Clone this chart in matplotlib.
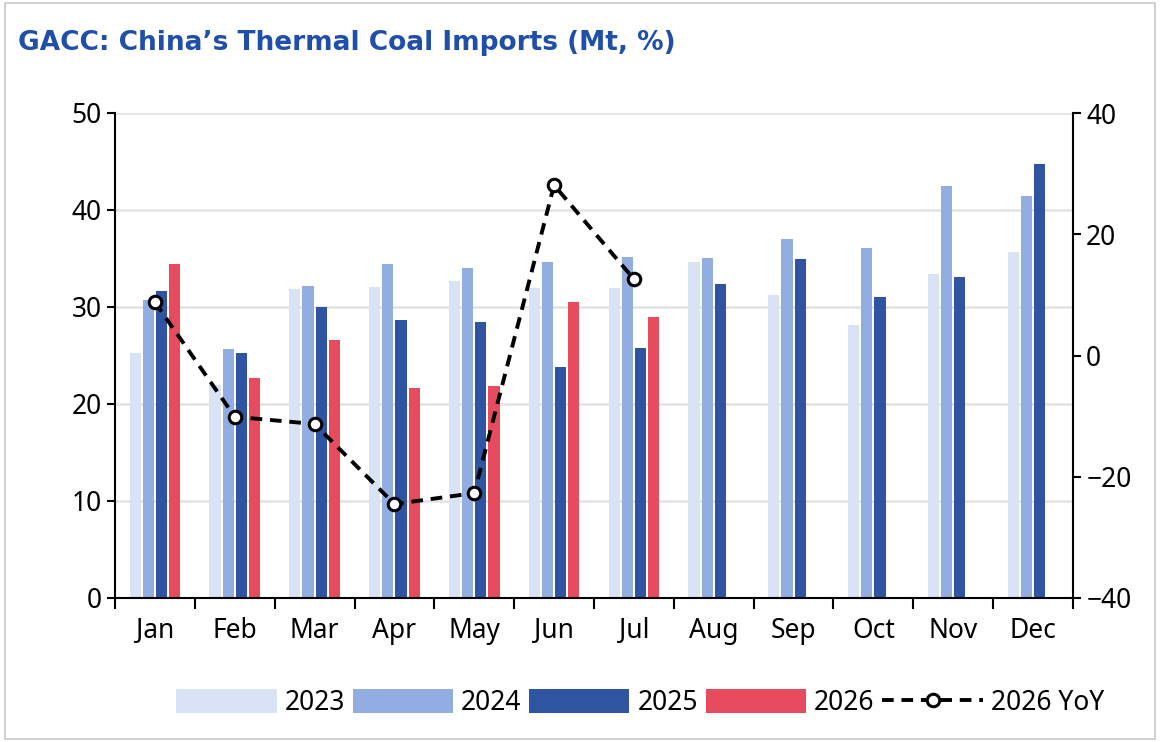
import numpy as np
import matplotlib.pyplot as plt
from matplotlib.patches import Rectangle

months = ["Jan", "Feb", "Mar", "Apr", "May", "Jun", "Jul", "Aug", "Sep", "Oct", "Nov", "Dec"]
y2023 = [25.3, 22.0, 31.9, 32.1, 32.7, 32.0, 32.0, 34.6, 31.2, 28.1, 33.4, 35.7]
y2024 = [30.7, 25.7, 32.2, 34.4, 34.0, 34.6, 35.2, 35.0, 37.0, 36.1, 42.5, 41.4]
y2025 = [31.7, 25.3, 30.0, 28.7, 28.5, 23.8, 25.8, 32.4, 34.9, 31.0, 33.1, 44.7]
y2026 = [34.4, 22.7, 26.6, 21.6, 21.9, 30.5, 29.0]
yoy2026 = [8.8, -10.1, -11.3, -24.5, -22.7, 28.1, 12.6]

plt.rcParams['font.family'] = ['Noto Sans', 'DejaVu Sans']

fig = plt.figure(figsize=(11.6, 7.42), dpi=100)
fig.patches.append(Rectangle((0.004, 0.004), 0.992, 0.992, transform=fig.transFigure,
                             fill=False, edgecolor="#c8c8c8", linewidth=1.2))
ax = fig.add_axes([115/1160, 1 - 598/742, (1073-115)/1160, (598-113)/742])

x = np.arange(12)
w = 0.14
step = 0.165
cols = ["#dae3f5", "#92ade2", "#2f55a2", "#e64c5e"]
series = [("2023", y2023), ("2024", y2024), ("2025", y2025), ("2026", y2026)]
handles = []
for i, (name, vals) in enumerate(series):
    xi = np.arange(len(vals)) + (i - 1.5) * step
    handles.append(ax.bar(xi, vals, w, color=cols[i], label=name, zorder=2))

ax.set_xlim(-0.5, 11.5)
ax.set_ylim(0, 50)
ax.set_yticks(range(0, 51, 10))
ax.grid(axis="y", color="#e3e3e3", linewidth=1.8, zorder=0)
ax.set_xticks(np.arange(-0.5, 12, 1))
ax.set_xticklabels([])
ax.set_xticks(x, minor=True)
ax.set_xticklabels(months, minor=True)
ax.tick_params(axis="x", which="minor", length=0, labelsize=19, pad=14)
ax.tick_params(axis="x", which="major", length=8, width=1.5, direction="out")
ax.tick_params(axis="y", labelsize=19, length=6, width=1.5)
for s in ["top", "right"]:
    ax.spines[s].set_visible(False)
for s in ["left", "bottom"]:
    ax.spines[s].set_linewidth(1.5)

ax2 = ax.twinx()
ax2.set_ylim(-40, 40)
ax2.set_yticks(range(-40, 41, 20))
ax2.tick_params(axis="y", labelsize=19, length=6, width=1.5)
for s in ["top", "left", "bottom"]:
    ax2.spines[s].set_visible(False)
ax2.spines["right"].set_linewidth(1.5)
line, = ax2.plot(np.arange(len(yoy2026)), yoy2026, color="black", linewidth=2.8,
                 linestyle=(0, (3, 2)), marker="o", markersize=9, markerfacecolor="white",
                 markeredgewidth=2.2, label="2026 YoY", zorder=3)

fig.text(18/1160, 1 - 43/742, "GACC: China\u2019s Thermal Coal Imports (Mt, %)", fontsize=19,
         fontweight="bold", color="#1f4fa8", va="center", family="DejaVu Sans")

fig.legend(handles + [line], ["2023", "2024", "2025", "2026", "2026 YoY"], loc="center",
           bbox_to_anchor=(640/1160, 1 - 703/742), ncol=5, frameon=False, fontsize=19,
           handlelength=3.8, handleheight=1.0, columnspacing=0.3, handletextpad=0.3)

fig.savefig("out.png", dpi=100)
